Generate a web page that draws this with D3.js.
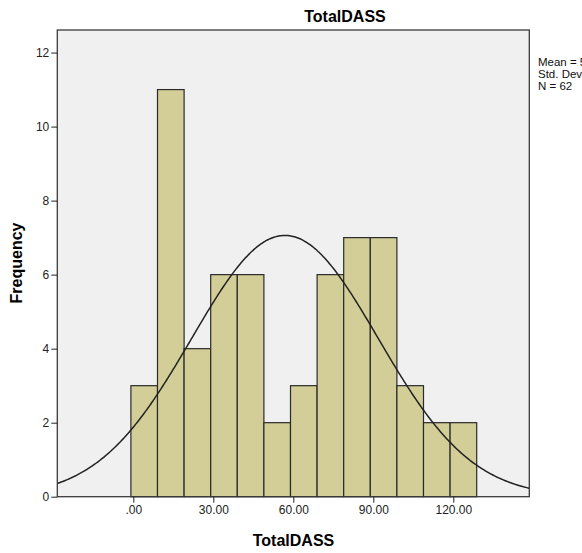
<!DOCTYPE html>
<html><head><meta charset="utf-8">
<script src="https://cdn.jsdelivr.net/npm/d3@7"></script>
<style>body{margin:0;background:#fff;overflow:hidden}svg{display:block;font-family:Arial,"Liberation Sans",sans-serif}</style>
</head><body><svg id="c" width="582" height="553"></svg>
<script>
const counts = [3, 11, 4, 6, 6, 2, 3, 6, 7, 7, 3, 2, 2];
const binStart = -0.9;
const binWidth = 9.975;
const xTicks = [0, 30, 60, 90, 120];
const xTickLabels = [".00", "30.00", "60.00", "90.00", "120.00"];
const yTicks = [0, 2, 4, 6, 8, 10, 12];
const stats = { mean: 56.87, sd: 34.95, n: 62 };
const legendLines = ["Mean = 56.87", "Std. Dev. = 34.952", "N = 62"];

const bins = counts.map((c, i) => ({ x0: binStart + i * binWidth, x1: binStart + (i + 1) * binWidth, c }));

const L = 57.3, R = 529.3, T = 30, B = 496.7;
const x = d3.scaleLinear().domain([-28.5, 148.5]).range([L, R]);
const y = d3.scaleLinear().domain([0, 12.61]).range([B, T]);

const svg = d3.select("#c");
svg.append("defs").append("clipPath").attr("id", "clip")
  .append("rect").attr("x", L).attr("y", T).attr("width", R - L).attr("height", B - T);

svg.append("rect").attr("x", L).attr("y", T).attr("width", R - L).attr("height", B - T)
  .attr("fill", "#f0f0f0");

svg.append("g").selectAll("rect").data(bins).join("rect")
  .attr("x", d => x(d.x0)).attr("y", d => y(d.c))
  .attr("width", d => x(d.x1) - x(d.x0)).attr("height", d => y(0) - y(d.c))
  .attr("fill", "#d3ce97").attr("stroke", "#2a2a2a").attr("stroke-width", 1.2);

const dens = v => stats.n * binWidth / (stats.sd * Math.sqrt(2 * Math.PI)) * Math.exp(-0.5 * ((v - stats.mean) / stats.sd) ** 2);
const pts = d3.range(-28.5, 148.6, 0.5).map(v => [v, dens(v)]);
svg.append("path").attr("clip-path", "url(#clip)")
  .attr("d", d3.line().x(d => x(d[0])).y(d => y(d[1])).curve(d3.curveBasis)(pts))
  .attr("fill", "none").attr("stroke", "#222").attr("stroke-width", 1.5);

svg.append("rect").attr("x", L).attr("y", T).attr("width", R - L).attr("height", B - T)
  .attr("fill", "none").attr("stroke", "#3a3a3a").attr("stroke-width", 1.3);

const xAxis = svg.append("g").attr("transform", `translate(0,${B})`)
  .call(d3.axisBottom(x).tickValues(xTicks).tickFormat((d, i) => xTickLabels[i]).tickSize(6).tickPadding(3));
xAxis.select(".domain").remove();
xAxis.selectAll("line").attr("stroke", "#222");
xAxis.selectAll("text").attr("font-size", 12).attr("fill", "#222").attr("font-family", "Arial, 'Liberation Sans', sans-serif");

const yAxis = svg.append("g").attr("transform", `translate(${L},0)`)
  .call(d3.axisLeft(y).tickValues(yTicks).tickFormat(d3.format("d")).tickSize(6).tickPadding(2));
yAxis.select(".domain").remove();
yAxis.selectAll("line").attr("stroke", "#222");
yAxis.selectAll("text").attr("font-size", 12).attr("fill", "#222").attr("font-family", "Arial, 'Liberation Sans', sans-serif");

svg.append("text").attr("x", 345).attr("y", 22).attr("text-anchor", "middle")
  .attr("font-size", 16).attr("font-weight", "bold").text("TotalDASS");
svg.append("text").attr("x", 293.5).attr("y", 546).attr("text-anchor", "middle")
  .attr("font-size", 16).attr("font-weight", "bold").text("TotalDASS");
svg.append("text").attr("transform", "translate(22,263) rotate(-90)").attr("text-anchor", "middle")
  .attr("font-size", 16).attr("font-weight", "bold").text("Frequency");

svg.append("g").selectAll("text").data(legendLines).join("text")
  .attr("x", 538).attr("y", (d, i) => 66 + i * 11.8)
  .attr("font-size", 11.5).attr("fill", "#111").text(d => d);
</script></body></html>
